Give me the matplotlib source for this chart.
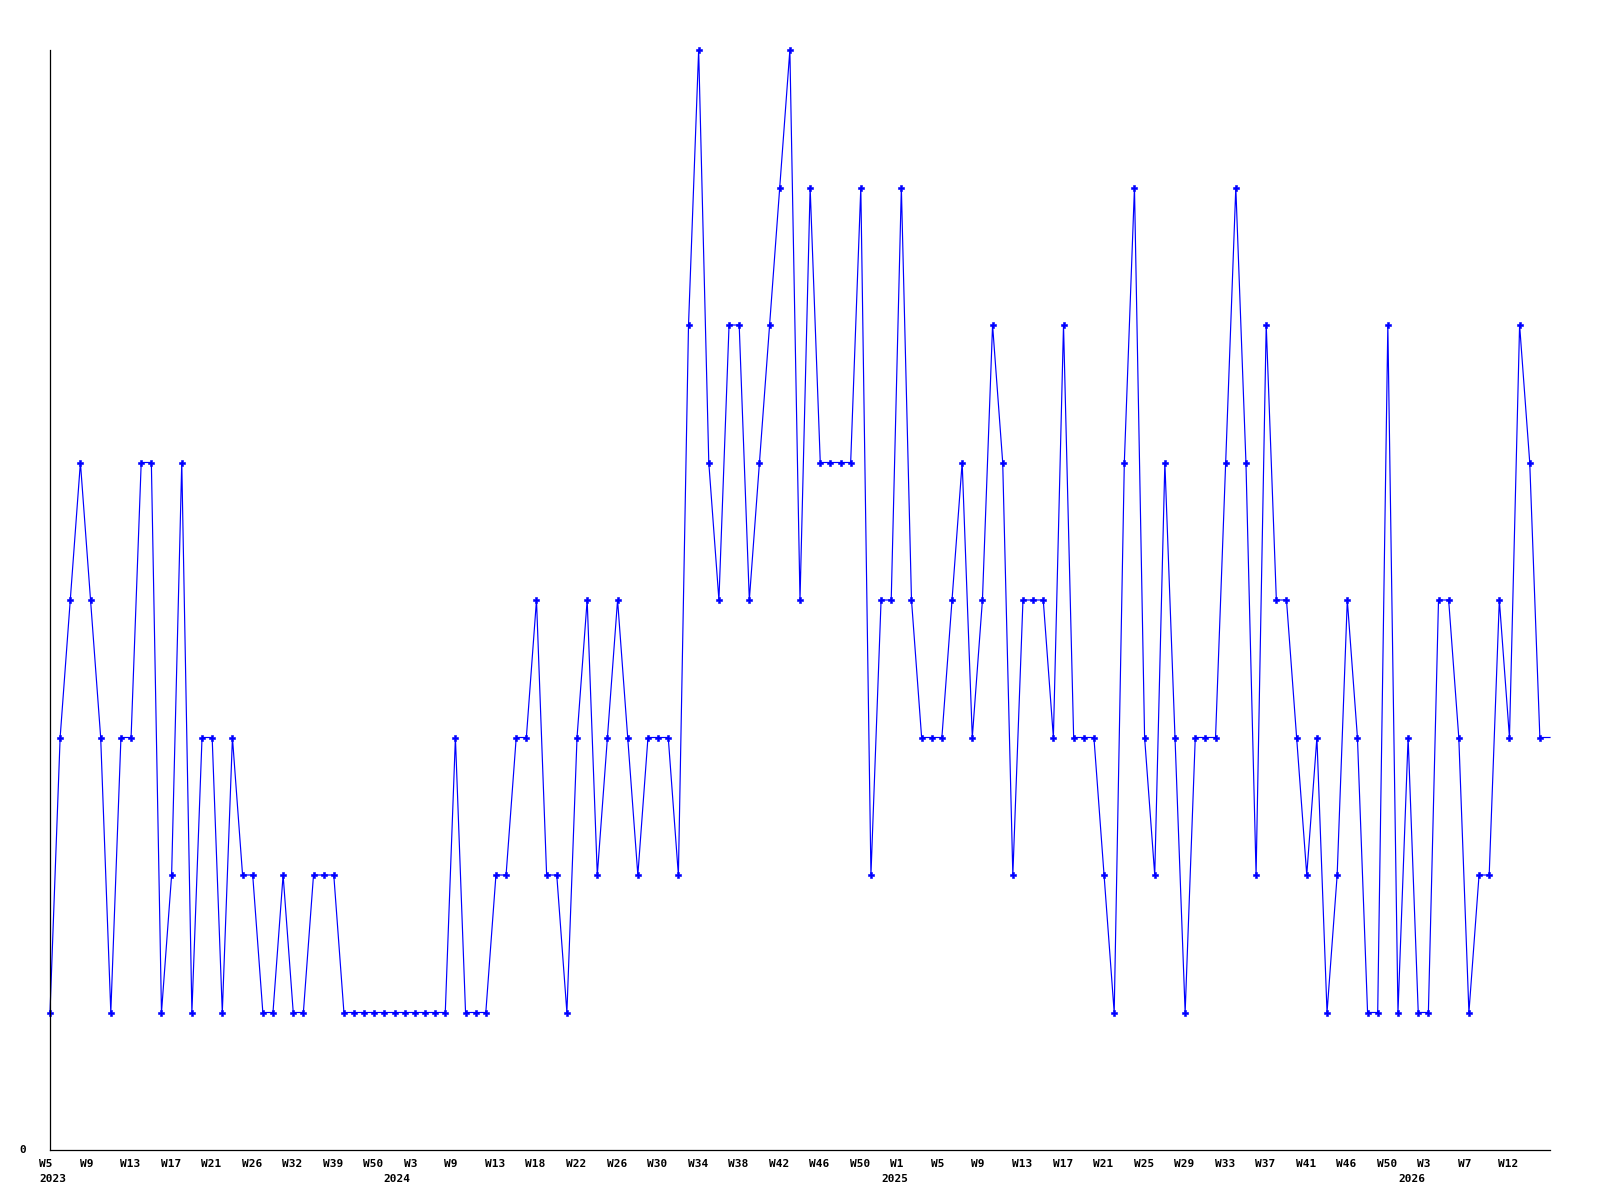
import matplotlib
matplotlib.use("Agg")
import matplotlib.pyplot as plt
from matplotlib.transforms import blended_transform_factory, ScaledTranslation

# ── Data ───────────────────────────────────────────────────────────────────────
VALUES = [
    1, 3, 4, 5, 4, 3, 1, 3, 3, 5,
    5, 1, 2, 5, 1, 3, 3, 1, 3, 2,
    2, 1, 1, 2, 1, 1, 2, 2, 2, 1,
    1, 1, 1, 1, 1, 1, 1, 1, 1, 1,
    3, 1, 1, 1, 2, 2, 3, 3, 4, 2,
    2, 1, 3, 4, 2, 3, 4, 3, 2, 3,
    3, 3, 2, 6, 8, 5, 4, 6, 6, 4,
    5, 6, 7, 8, 4, 7, 5, 5, 5, 5,
    7, 2, 4, 4, 7, 4, 3, 3, 3, 4,
    5, 3, 4, 6, 5, 2, 4, 4, 4, 3,
    6, 3, 3, 3, 2, 1, 5, 7, 3, 2,
    5, 3, 1, 3, 3, 3, 5, 7, 5, 2,
    6, 4, 4, 3, 2, 3, 1, 2, 4, 3,
    1, 1, 6, 1, 3, 1, 1, 4, 4, 3,
    1, 2, 2, 4, 3, 6, 5, 3,
]
CURRENT_VALUE = 3          # running (unfinished) period, drawn without a marker

WEEK_LABELS = [
    "W5", "W9", "W13", "W17", "W21", "W26", "W32", "W39", "W50",
    "W3", "W9", "W13", "W18", "W22", "W26", "W30", "W34", "W38", "W42",
    "W46", "W50", "W1", "W5", "W9", "W13", "W17", "W21", "W25", "W29",
    "W33", "W37", "W41", "W46", "W50", "W3", "W7", "W12",
]
LABEL_STEP = 4

YEARS = ["2023", "2024", "2025", "2026"]
YEAR_AT = [0, 36, 84, 136]          # index of the week label the year sits under

# ── Style ──────────────────────────────────────────────────────────────────────
BLUE = "#0000ff"
FONT = dict(family="DejaVu Sans Mono", fontweight="bold", fontsize=8)
YEAR_SHIFT_PX = [-11, -31, -20, -30]


def px(dx, dy, fig):
    return ScaledTranslation(dx / fig.dpi, dy / fig.dpi, fig.dpi_scale_trans)


fig = plt.figure(figsize=(16, 12), dpi=100)
ax = fig.add_axes([50 / 1600, 50 / 1200, 1500 / 1600, 1100 / 1200])

series = VALUES + [CURRENT_VALUE]
xs = list(range(len(series)))
ax.plot(
    xs, series,
    color=BLUE, linewidth=0.85,
    marker="P", markersize=4.6, markeredgewidth=0.4, markeredgecolor=BLUE,
    markevery=list(range(len(VALUES))),
    clip_on=False,
)

ax.set_xlim(0, len(series) - 1)
ax.set_ylim(0, 8)

for side in ("top", "right"):
    ax.spines[side].set_visible(False)
for side in ("left", "bottom"):
    ax.spines[side].set_linewidth(0.9)
    ax.spines[side].set_color("black")

ax.set_xticks([])
ax.set_yticks([])

# y-axis: a single "0" label
ax.text(0, 0, "0", ha="right", va="center",
        transform=ax.transData + px(-24, 0, fig), **FONT)

# week labels, left-aligned just before their point
xb = blended_transform_factory(ax.transData, ax.transAxes)
for k, lab in enumerate(WEEK_LABELS):
    ax.text(k * LABEL_STEP, 0, lab, ha="left", va="top",
            transform=xb + px(-11, -9, fig), **FONT)

for year, at, shift in zip(YEARS, YEAR_AT, YEAR_SHIFT_PX):
    ax.text(at, 0, year, ha="left", va="top",
            transform=xb + px(shift, -24, fig), **FONT)

plt.savefig("out.png", dpi=100)
plt.close()
